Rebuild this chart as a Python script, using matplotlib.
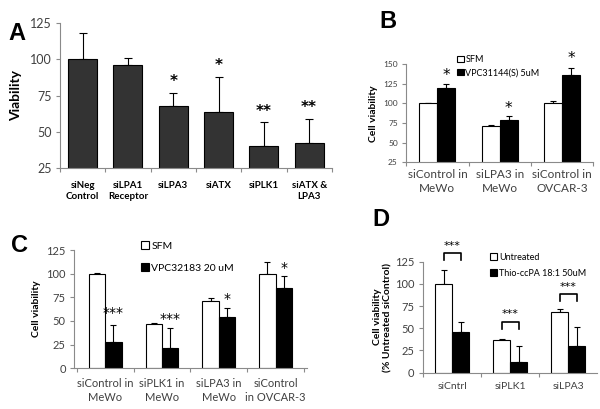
import numpy as np
import matplotlib.pyplot as plt
from matplotlib.ticker import FixedLocator, NullFormatter

# panel A
a_labels = ['siNeg\nControl', 'siLPA1\nReceptor', 'siLPA3', 'siATX', 'siPLK1', 'siATX &\nLPA3']
a_vals = [100, 96, 68, 64, 40.5, 42.5]
a_err = [18, 5, 9, 24, 16.5, 16.5]
a_stars = ['', '', '*', '*', '**', '**']
a_star_y = [0, 0, 85, 96, 64, 67]

# panel B
b_labels = ['siControl in\nMeWo', 'siLPA3 in\nMeWo', 'siControl in\nOVCAR-3']
b_sfm = [100, 71, 100]
b_sfm_err = [1, 1, 3]
b_vpc = [120, 79, 136]
b_vpc_err = [5, 4.5, 9]
b_star_y = [135, 93, 157]

# panel C
c_labels = ['siControl in\nMeWo', 'siPLK1 in\nMeWo', 'siLPA3 in\nMeWo', 'siControl\nin OVCAR-3']
c_sfm = [100, 47, 71, 100]
c_sfm_err = [0.7, 1, 3, 12]
c_vpc = [27.5, 21.5, 54.5, 84.5]
c_vpc_err = [18.5, 21, 9, 13]
c_stars = ['***', '***', '*', '*']
c_star_y = [58, 52, 73, 106]

# panel D
d_labels = ['siCntrl', 'siPLK1', 'siLPA3']
d_unt = [100, 36.3, 68]
d_unt_err = [15.5, 1.5, 3.3]
d_thio = [46.2, 11.7, 29.5]
d_thio_err = [10.5, 18, 21.5]
d_bracket_y = [134.5, 57.5, 88.3]

FONT = ['Lato', 'DejaVu Sans']
TXT = '#404040'
SPINE = '#8a8a8a'

plt.rcParams['font.family'] = FONT

fig = plt.figure(figsize=(6, 4.09), dpi=100)


def style_axes(ax, n, xlim, ylim, yticks, ysize, xsize, xbold=False, xpad=6):
    ax.set_xlim(*xlim)
    ax.set_ylim(*ylim)
    for s in ['top', 'right']:
        ax.spines[s].set_visible(False)
    for s in ['left', 'bottom']:
        ax.spines[s].set_color(SPINE)
        ax.spines[s].set_linewidth(0.8)
    ax.set_yticks(yticks)
    ax.tick_params(axis='y', length=3, width=0.8, color=SPINE, labelsize=ysize,
                   labelcolor=TXT, pad=3)
    ax.set_xticks(np.arange(n))
    ax.tick_params(axis='x', which='major', length=0, labelsize=xsize,
                   labelcolor='black' if xbold else TXT, pad=xpad)
    ax.xaxis.set_minor_locator(FixedLocator(np.arange(n + 1) - 0.5))
    ax.xaxis.set_minor_formatter(NullFormatter())
    ax.tick_params(axis='x', which='minor', length=3, width=0.8, color=SPINE)


def errs(ax, x, v, e, cap=2.5):
    ax.errorbar(x, v, yerr=[np.zeros(len(e)), e], fmt='none', ecolor='black',
                elinewidth=0.8, capsize=cap, capthick=0.8, zorder=1)


# ---- A ----
axA = fig.add_axes([0.100, 0.589, 0.453, 0.3545])
xa = np.arange(len(a_vals))
errs(axA, xa, a_vals, a_err, cap=3)
axA.bar(xa, a_vals, width=0.64, color='#333333', edgecolor='black', linewidth=0.8,
        zorder=2, bottom=0)
style_axes(axA, 6, (-0.5, 5.5), (25, 125), [25, 50, 75, 100, 125], 9, 7,
           xbold=True, xpad=9)
axA.set_xticklabels(a_labels, fontweight='bold', linespacing=1.4)
for x, s, y in zip(xa, a_stars, a_star_y):
    if s:
        axA.text(x, y, s, ha='center', va='center', fontsize=11, fontweight='bold',
                 family=['DejaVu Sans'])
axA.set_ylabel('Viability', fontweight='bold', fontsize=10, labelpad=6)

# ---- B ----
axB = fig.add_axes([0.677, 0.603, 0.312, 0.240])
xb = np.arange(len(b_sfm))
w = 0.29
errs(axB, xb - w / 2, b_sfm, b_sfm_err)
errs(axB, xb + w / 2, b_vpc, b_vpc_err)
axB.bar(xb - w / 2, b_sfm, width=w, color='white', edgecolor='black', linewidth=0.8,
        zorder=2, label='SFM')
axB.bar(xb + w / 2, b_vpc, width=w, color='black', edgecolor='black', linewidth=0.8,
        zorder=2, label='VPC31144(S) 5uM')
style_axes(axB, 3, (-0.5, 2.5), (25, 150), [25, 50, 75, 100, 125, 150], 6, 8.5, xpad=5)
axB.set_xticklabels(b_labels, linespacing=1.3)
for x, y in zip(xb, b_star_y):
    axB.text(x + w / 2, y, '*', ha='center', va='center', fontsize=11,
             family=['DejaVu Sans'], clip_on=False)
axB.set_ylabel('Cell viability', fontweight='bold', fontsize=7.5, labelpad=4)
axB.legend(loc='upper left', bbox_to_anchor=(0.762, 0.865), bbox_transform=fig.transFigure,
           frameon=False, fontsize=6.5, handlelength=0.7, handleheight=0.7,
           handletextpad=0.2, labelspacing=0.45, borderpad=0, borderaxespad=0)

# ---- C ----
axC = fig.add_axes([0.1233, 0.0995, 0.388, 0.2892])
xc = np.arange(len(c_sfm))
errs(axC, xc - w / 2, c_sfm, c_sfm_err)
errs(axC, xc + w / 2, c_vpc, c_vpc_err)
axC.bar(xc - w / 2, c_sfm, width=w, color='white', edgecolor='black', linewidth=0.8,
        zorder=2, label='SFM')
axC.bar(xc + w / 2, c_vpc, width=w, color='black', edgecolor='black', linewidth=0.8,
        zorder=2, label='VPC32183 20 uM')
style_axes(axC, 4, (-0.55, 3.55), (0, 125), [0, 25, 50, 75, 100, 125], 8, 8, xpad=7)
axC.set_xticklabels(c_labels, linespacing=1.3)
for x, s, y in zip(xc, c_stars, c_star_y):
    axC.text(x + w / 2, y, s, ha='center', va='center', fontsize=10,
             family=['DejaVu Sans'])
axC.set_ylabel('Cell viability', fontweight='bold', fontsize=7.5, labelpad=4)
axC.legend(loc='upper left', bbox_to_anchor=(0.235, 0.41), bbox_transform=fig.transFigure,
           frameon=False, fontsize=7.5, handlelength=0.8, handleheight=0.8,
           handletextpad=0.2, labelspacing=1.2, borderpad=0, borderaxespad=0)

# ---- D ----
axD = fig.add_axes([0.7045, 0.0888, 0.29, 0.2714])
xd = np.arange(len(d_unt))
errs(axD, xd - w / 2, d_unt, d_unt_err)
errs(axD, xd + w / 2, d_thio, d_thio_err)
axD.bar(xd - w / 2, d_unt, width=w, color='white', edgecolor='black', linewidth=0.8,
        zorder=2, label='Untreated')
axD.bar(xd + w / 2, d_thio, width=w, color='black', edgecolor='black', linewidth=0.8,
        zorder=2, label='Thio-ccPA 18:1 50uM')
style_axes(axD, 3, (-0.51, 2.49), (0, 125), [0, 25, 50, 75, 100, 125], 8, 7.5, xpad=7)
axD.set_xticklabels(d_labels)
for x, y in zip(xd, d_bracket_y):
    axD.plot([x - w / 2, x - w / 2, x + w / 2, x + w / 2], [y - 8, y, y, y - 8],
             color='black', lw=1.2, clip_on=False)
    axD.text(x, y + 3, '***', ha='center', va='bottom', fontsize=8,
             family=['DejaVu Sans'], clip_on=False)
axD.set_ylabel('Cell viability\n(% Untreated siControl)', fontweight='bold',
               fontsize=7.5, labelpad=2, linespacing=1.2)
axD.legend(loc='upper left', bbox_to_anchor=(0.817, 0.382), bbox_transform=fig.transFigure,
           frameon=False, fontsize=6.5, handlelength=0.8, handleheight=0.8,
           handletextpad=0.2, labelspacing=0.8, borderpad=0, borderaxespad=0)

# panel letters
for lab, x, y in [('A', 17, 33), ('B', 388, 22), ('C', 19, 246), ('D', 381, 219)]:
    fig.text(x / 600, 1 - y / 409, lab, ha='center', va='center', fontsize=17,
             fontweight='bold', family=['Liberation Sans'])

fig.savefig('out.png', dpi=100)
